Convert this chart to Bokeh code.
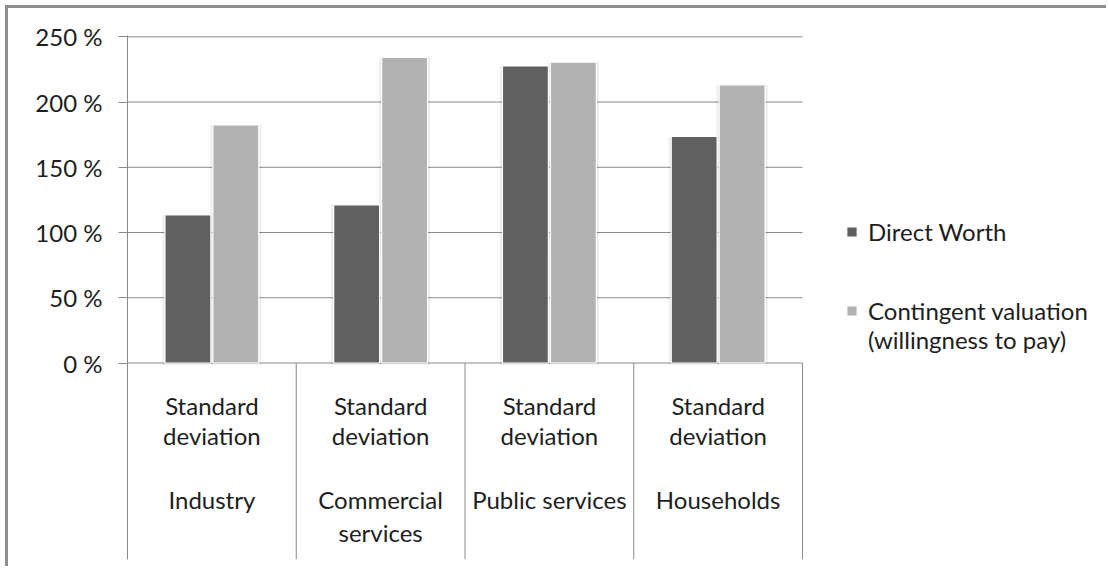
import numpy as np
from bokeh.plotting import figure
from bokeh.models import (Range1d, FixedTicker, PrintfTickFormatter, Legend,
                          LegendItem, ColumnDataSource)
from bokeh.core.properties import value
from bokeh.embed import file_html
from bokeh.resources import INLINE

# ---------------- data ----------------
categories = ["Industry", "Commercial services", "Public services", "Households"]
category_lines = [["Industry"], ["Commercial", "services"], ["Public services"], ["Households"]]
measure_lines = ["Standard", "deviation"]
series_names = ["Direct Worth", "Contingent valuation (willingness to pay)"]
series_lines = [["Direct Worth"], ["Contingent valuation", "(willingness to pay)"]]
direct_worth = [113.6, 121.2, 227.7, 173.6]
contingent_valuation = [182.5, 234.3, 230.5, 213.2]
y_ticks = [0, 50, 100, 150, 200, 250]
colors = ["#606060", "#b2b2b2"]

FONT = "Lato"
TXT = "#1e1e1e"
GRID = "#8a8a8a"
n = len(categories)
idx = np.arange(n)
cat_px = 168.75
frame_w = 1101 - 119
y0, y1 = -150.6, 251.0

p = figure(width=1101, height=561, output_backend="svg", toolbar_location=None,
           x_range=Range1d(0, frame_w / cat_px), y_range=Range1d(y0, y1),
           min_border_left=119, min_border_right=0, min_border_top=27,
           min_border_bottom=10)
p.margin = (5, 0, 0, 5)
p.styles = {"border-left": "3px solid #8e8e8e", "border-top": "3px solid #8e8e8e"}
p.outline_line_color = None
p.background_fill_color = "white"
p.border_fill_color = "white"
p.xaxis.visible = False
p.xgrid.visible = False
p.ygrid.visible = False

ticker = FixedTicker(ticks=y_ticks)
p.yaxis.ticker = ticker
p.yaxis.formatter = PrintfTickFormatter(format="%d %%")
p.yaxis.axis_line_color = GRID
p.yaxis.major_tick_line_color = GRID
p.yaxis.minor_tick_line_color = None
p.yaxis.major_tick_out = 9
p.yaxis.major_tick_in = 0
p.yaxis.major_label_standoff = 16
p.yaxis.major_label_text_font = FONT
p.yaxis.major_label_text_font_size = "24px"
p.yaxis.major_label_text_color = TXT

# horizontal gridlines across the category area only
p.segment(x0=np.zeros(len(y_ticks)), y0=y_ticks, x1=np.full(len(y_ticks), n),
          y1=y_ticks, line_color=GRID, line_width=1)

# category separators below the zero line
bounds = idx + 1.0
p.segment(x0=bounds, y0=0, x1=bounds, y1=y0, line_color=GRID, line_width=1)

# bars
off = 0.142
bw = 0.272
src = ColumnDataSource(dict(x_dw=idx + 0.5 - off, x_cv=idx + 0.5 + off,
                            dw=direct_worth, cv=contingent_valuation))
# soft shadows
for col_x, col_y in (("x_dw", "dw"), ("x_cv", "cv")):
    p.vbar(x=col_x, top=col_y, bottom=-1.2, width=bw + 0.03, source=src,
           fill_color="black", fill_alpha=0.07, line_color=None)
r_dw = p.vbar(x="x_dw", top="dw", bottom=0, width=bw, source=src,
              fill_color=colors[0], line_color="white", line_width=1.2)
r_cv = p.vbar(x="x_cv", top="cv", bottom=0, width=bw, source=src,
              fill_color=colors[1], line_color="white", line_width=1.2)

# category axis labels
centers = idx + 0.5
for k, line in enumerate(measure_lines):
    p.text(x=centers, y=np.zeros(n), text=[line] * n, y_offset=42 + 30 * k,
           text_align="center", text_baseline="alphabetic",
           text_font=value(FONT), text_font_size="24px", text_color=TXT)
for k in range(2):
    xs = [c for c, lines in zip(centers, category_lines) if len(lines) > k]
    ts = [lines[k] for lines in category_lines if len(lines) > k]
    p.text(x=xs, y=np.zeros(len(xs)), text=ts, y_offset=136 + 33 * k,
           text_align="center", text_baseline="alphabetic",
           text_font=value(FONT), text_font_size="24px", text_color=TXT)

legend_style = dict(orientation="vertical", border_line_color=None,
                    background_fill_alpha=0, padding=0, margin=0, spacing=0,
                    glyph_width=13, glyph_height=13, label_standoff=10,
                    label_text_font=FONT, label_text_font_size="24px",
                    label_text_line_height=1.1, label_text_color=TXT)
legend_a = Legend(items=[LegendItem(label=series_lines[0][0], renderers=[r_dw])],
                  location=(718, 313), **legend_style)
legend_b = Legend(items=[LegendItem(label=series_lines[1][0], renderers=[r_cv]),
                         LegendItem(label=series_lines[1][1], renderers=[])],
                  location=(718, 205), **legend_style)
p.add_layout(legend_a, "center")
p.add_layout(legend_b, "center")

open("out.html", "w").write(file_html(p, INLINE))
